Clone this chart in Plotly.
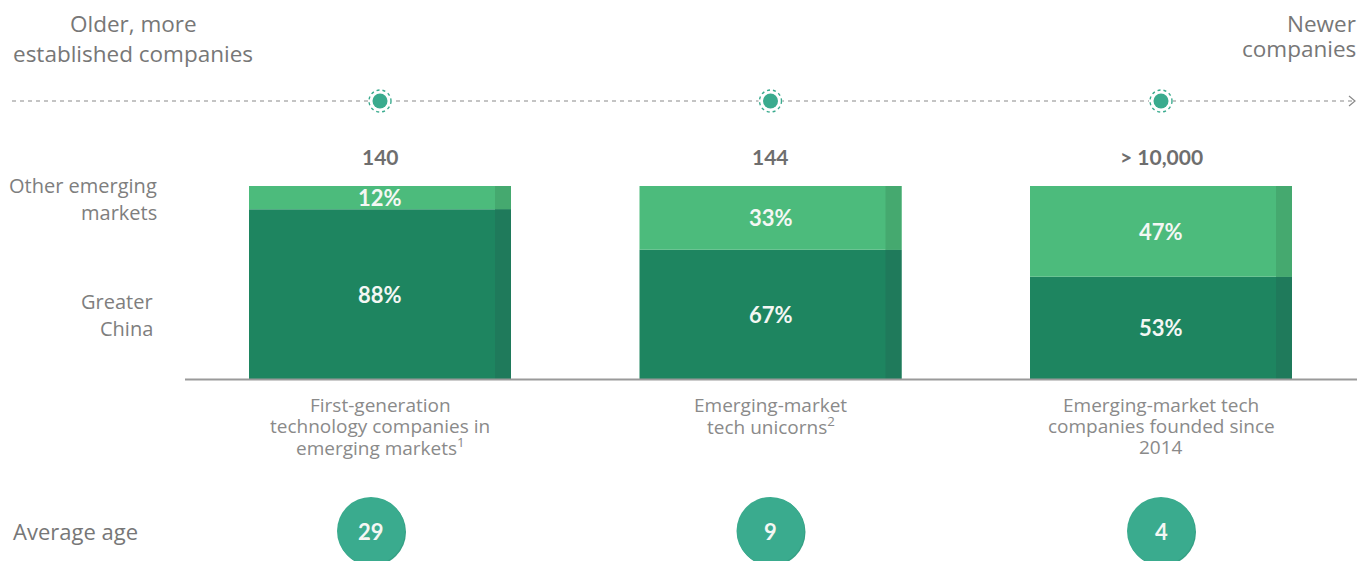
import plotly.graph_objects as go

W, H = 1362, 561

categories = [
    "First-generation<br>technology companies in<br>emerging markets<sup>1</sup>",
    "Emerging-market<br>tech unicorns<sup>2</sup>",
    "Emerging-market tech<br>companies founded since<br>2014",
]
greater_china = [88, 67, 53]
other_em = [12, 33, 47]
totals = ["140", "144", "> 10,000"]
avg_age = [29, 9, 4]

DARK = "#1e8560"
DARK_STRIP = "#1f7a5b"
LIGHT = "#4cbb7c"
LIGHT_STRIP = "#45a96f"
TEAL = "#3aab8e"
GRAY_TXT = "#777777"

# pixel helpers (layout only)
def px(x):
    return x / W

def py(y):
    return 1 - y / H

BAR_L_PX, BAR_R_PX = 249, 511
CENTER0, STEP = 380, 390.5
BAR_W = (BAR_R_PX - BAR_L_PX) / STEP
STRIP_W = 16 / STEP
Y_TOP, Y_BOT = 186, 379

xs = list(range(len(categories)))
x_range = [-CENTER0 / STEP, (W - CENTER0) / STEP]

fig = go.Figure()
fig.add_bar(x=xs, y=greater_china, base=[0] * 3, width=BAR_W, marker_color=DARK,
            marker_line_width=0, hoverinfo="skip", showlegend=False)
fig.add_bar(x=xs, y=other_em, base=greater_china, width=BAR_W, marker_color=LIGHT,
            marker_line_width=0, hoverinfo="skip", showlegend=False)
fig.add_bar(x=xs, y=greater_china, base=[0] * 3, width=STRIP_W, offset=BAR_W / 2 - STRIP_W,
            marker_color=DARK_STRIP, marker_line_width=0, hoverinfo="skip", showlegend=False)
fig.add_bar(x=xs, y=other_em, base=greater_china, width=STRIP_W, offset=BAR_W / 2 - STRIP_W,
            marker_color=LIGHT_STRIP, marker_line_width=0, hoverinfo="skip", showlegend=False)

annotations = []
BOLD = "Lato, Open Sans, sans-serif"
LIGHTF = "Open Sans, sans-serif"
pct_font = dict(family=BOLD, size=22, color="#f4f7f4", weight="bold")


def add_lines(text, x, xref, y0_px, spacing, font, xanchor="center", xshift=0):
    for k, line in enumerate(text.split("<br>")):
        annotations.append(dict(x=x, y=py(y0_px + k * spacing), xref=xref, yref="paper",
                                text=line, showarrow=False, xanchor=xanchor,
                                yanchor="middle", xshift=xshift, font=font))


cat_font = dict(family=LIGHTF, size=19, color="#8a8a8a")
for i in xs:
    gc, ot = greater_china[i], other_em[i]
    annotations.append(dict(x=i, y=gc / 2, xref="x", yref="y", text=f"{gc}%",
                            showarrow=False, font=pct_font))
    annotations.append(dict(x=i, y=gc + ot / 2, xref="x", yref="y", text=f"{ot}%",
                            showarrow=False, font=pct_font))
    annotations.append(dict(x=i, y=py(157), xref="x", yref="paper", text=totals[i],
                            showarrow=False, yanchor="middle",
                            font=dict(family=BOLD, size=21, color="#6e6e6e", weight="bold")))
    add_lines(categories[i], i, "x", 405, 21, cat_font)
    annotations.append(dict(x=i, y=py(531), xref="x", yref="paper", text=str(avg_age[i]),
                            xshift=-9 if i == 0 else 0, showarrow=False, yanchor="middle",
                            font=dict(family=BOLD, size=22, color="#f4f7f4", weight="bold")))

side_font = dict(family=LIGHTF, size=22.5, color=GRAY_TXT)
add_lines("Older, more<br>established companies", px(133), "paper", 24, 30, side_font)
add_lines("Newer<br>companies", px(1358), "paper", 24, 24, side_font, xanchor="right")
leg_font = dict(family=LIGHTF, size=20, color="#7e7e7e")
add_lines("Other emerging<br>markets", px(159), "paper", 185, 27, leg_font, xanchor="right")
add_lines("Greater<br>China", px(155), "paper", 301, 27, leg_font, xanchor="right")
annotations.append(dict(x=px(11), y=py(531), xref="paper", yref="paper", showarrow=False,
                        xanchor="left", text="Average age", yanchor="middle",
                        font=dict(family=LIGHTF, size=22, color=GRAY_TXT)))

shapes = []
shapes.append(dict(type="line", xref="paper", yref="paper", x0=px(12), x1=px(1354),
                   y0=py(101), y1=py(101), line=dict(color="#8a8a8a", width=1.2, dash="4px,4px")))
shapes.append(dict(type="path", xref="paper", yref="paper",
                   path=f"M {px(1349)} {py(96)} L {px(1355)} {py(101)} L {px(1349)} {py(106)}",
                   line=dict(color="#8a8a8a", width=1.2)))
shapes.append(dict(type="line", xref="paper", yref="paper", x0=px(185), x1=px(1357),
                   y0=py(379.5), y1=py(379.5), line=dict(color="#9a9a9a", width=2), layer="above"))
for i in xs:
    shapes.append(dict(type="circle", xref="x", yref="paper", xsizemode="pixel", ysizemode="pixel",
                       xanchor=i, yanchor=py(101), x0=-12, x1=12, y0=-12, y1=12,
                       fillcolor="white", line=dict(width=0)))
    shapes.append(dict(type="circle", xref="x", yref="paper", xsizemode="pixel", ysizemode="pixel",
                       xanchor=i, yanchor=py(101), x0=-11, x1=11, y0=-11, y1=11,
                       fillcolor="rgba(0,0,0,0)", line=dict(color=TEAL, width=1.4, dash="3px,3px")))
    shapes.append(dict(type="circle", xref="x", yref="paper", xsizemode="pixel", ysizemode="pixel",
                       xanchor=i, yanchor=py(101), x0=-7.5, x1=7.5, y0=-7.5, y1=7.5,
                       fillcolor=TEAL, line=dict(width=0)))
    off = -9 if i == 0 else 0
    shapes.append(dict(type="circle", xref="x", yref="paper", xsizemode="pixel", ysizemode="pixel",
                       xanchor=i, yanchor=py(531), x0=off - 33, x1=off + 35, y0=-35, y1=33,
                       fillcolor="#35a085", line=dict(width=0)))
    shapes.append(dict(type="circle", xref="x", yref="paper", xsizemode="pixel", ysizemode="pixel",
                       xanchor=i, yanchor=py(531), x0=off - 34, x1=off + 34, y0=-34, y1=34,
                       fillcolor=TEAL, line=dict(width=0)))

fig.update_layout(
    width=W, height=H,
    margin=dict(l=0, r=0, t=0, b=0),
    paper_bgcolor="white", plot_bgcolor="white",
    barmode="overlay",
    xaxis=dict(range=x_range, domain=[0, 1], visible=False, fixedrange=True),
    yaxis=dict(range=[0, 100], domain=[py(Y_BOT), py(Y_TOP)], visible=False, fixedrange=True),
    annotations=annotations,
    shapes=shapes,
    showlegend=False,
)

fig.write_html("out.html", config={"displayModeBar": False})
